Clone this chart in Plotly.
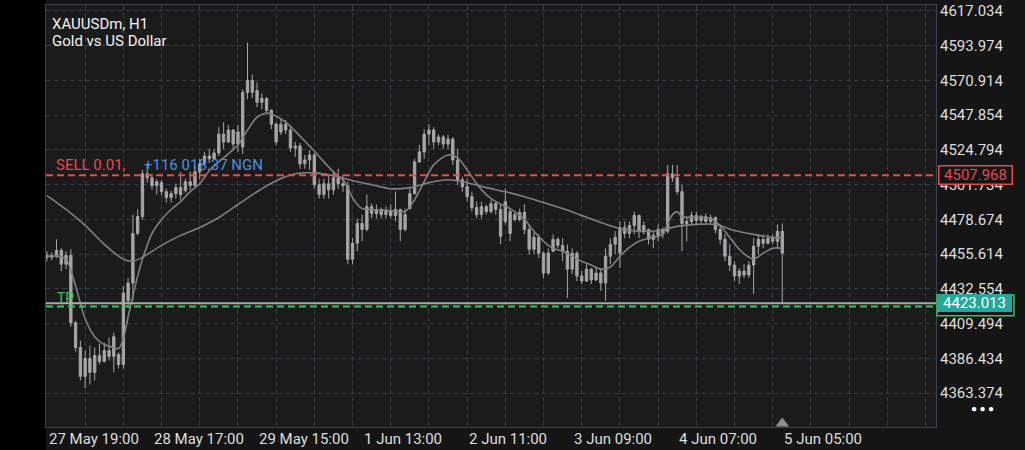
import plotly.graph_objects as go

# ---------------- data (XAUUSDm H1 candles) ----------------
opens = [4454.9, 4453.6, 4454.9, 4458.2, 4449.0, 4454.9, 4410.1, 4393.7, 4374.6, 4386.4,
         4377.2, 4388.4, 4384.5, 4391.7, 4387.8, 4389.1, 4382.5, 4424.6, 4436.5, 4469.4,
         4480.6, 4509.0, 4506.3, 4501.1, 4503.1, 4497.1, 4493.2, 4495.8, 4499.8, 4497.8,
         4503.7, 4501.1, 4510.3, 4515.6, 4520.8, 4518.9, 4522.8, 4535.3, 4530.1, 4538.0,
         4528.7, 4526.8, 4563.0, 4570.9, 4564.3, 4556.4, 4559.1, 4551.1, 4541.9, 4536.7,
         4541.9, 4538.0, 4526.1, 4527.4, 4515.6, 4518.2, 4521.5, 4501.7, 4495.2, 4502.4,
         4498.4, 4506.3, 4502.4, 4501.1, 4452.3, 4462.9, 4476.0, 4472.1, 4487.2, 4482.6,
         4485.3, 4481.9, 4484.6, 4481.3, 4485.3, 4472.1, 4485.9, 4495.8, 4516.9, 4523.5,
         4535.3, 4538.0, 4530.1, 4533.4, 4528.7, 4532.0, 4518.2, 4505.0, 4500.4, 4493.8,
         4486.6, 4481.9, 4487.2, 4483.9, 4489.2, 4485.3, 4477.4, 4483.9, 4481.9, 4478.7,
         4483.3, 4472.1, 4458.9, 4466.8, 4456.3, 4443.1, 4457.6, 4465.5, 4461.5, 4457.6,
         4445.7, 4456.3, 4441.1, 4437.8, 4445.7, 4438.5, 4443.1, 4436.5, 4454.3, 4462.2,
         4456.3, 4473.4, 4469.4, 4474.7, 4481.3, 4470.8, 4472.1, 4465.5, 4468.1, 4472.1,
         4470.8, 4509.0, 4506.3, 4497.1, 4476.0, 4477.4, 4481.3, 4478.0, 4480.6, 4477.4,
         4480.0, 4472.1, 4465.5, 4454.3, 4448.4, 4441.1, 4444.4, 4441.8, 4448.4, 4460.9,
         4465.5, 4462.9, 4466.2, 4464.2, 4470.8]
highs = [4457.6, 4456.9, 4465.5, 4459.6, 4457.6, 4458.9, 4411.5, 4398.3, 4391.7, 4395.0,
         4393.7, 4396.3, 4397.0, 4400.3, 4403.6, 4390.4, 4434.5, 4439.8, 4481.9, 4485.3,
         4511.6, 4514.9, 4509.0, 4505.7, 4505.0, 4499.1, 4497.8, 4502.4, 4510.3, 4505.7,
         4510.3, 4514.9, 4518.9, 4523.5, 4525.5, 4525.5, 4539.9, 4543.2, 4541.3, 4538.6,
         4541.3, 4565.0, 4596.0, 4574.9, 4569.6, 4562.3, 4559.7, 4551.8, 4543.2, 4545.2,
         4544.6, 4541.3, 4530.1, 4529.4, 4521.5, 4524.8, 4522.8, 4505.7, 4505.7, 4508.3,
         4510.3, 4512.3, 4508.3, 4503.7, 4466.2, 4479.3, 4481.9, 4495.2, 4489.2, 4488.6,
         4486.6, 4487.2, 4488.6, 4497.1, 4485.9, 4485.9, 4499.1, 4518.9, 4528.1, 4538.6,
         4541.9, 4539.9, 4535.3, 4534.7, 4534.7, 4533.4, 4525.5, 4507.0, 4505.7, 4497.1,
         4490.5, 4490.5, 4488.6, 4491.8, 4490.5, 4488.6, 4499.1, 4485.9, 4483.9, 4485.9,
         4488.6, 4475.4, 4470.8, 4468.8, 4457.6, 4459.6, 4468.8, 4466.8, 4466.2, 4462.2,
         4459.6, 4457.6, 4444.4, 4449.0, 4446.4, 4446.4, 4446.4, 4459.6, 4466.2, 4470.8,
         4477.4, 4477.4, 4477.4, 4483.9, 4481.9, 4477.4, 4472.7, 4470.8, 4475.4, 4473.4,
         4514.9, 4514.9, 4514.9, 4501.7, 4480.6, 4483.9, 4483.9, 4481.9, 4482.6, 4481.9,
         4480.6, 4475.4, 4468.8, 4462.2, 4451.0, 4446.4, 4449.0, 4451.0, 4466.2, 4468.8,
         4468.8, 4468.8, 4468.8, 4475.4, 4476.0]
lows = [4451.0, 4451.7, 4453.0, 4444.4, 4445.7, 4407.5, 4391.0, 4371.9, 4366.7, 4369.3,
        4371.9, 4382.5, 4383.8, 4385.1, 4377.2, 4379.8, 4379.8, 4420.0, 4424.6, 4468.1,
        4478.7, 4503.1, 4498.4, 4495.2, 4494.5, 4489.9, 4489.9, 4492.5, 4491.8, 4496.5,
        4498.4, 4500.4, 4505.0, 4514.3, 4516.2, 4518.2, 4520.8, 4525.5, 4529.4, 4525.5,
        4523.5, 4522.2, 4558.4, 4559.1, 4553.1, 4551.8, 4548.5, 4538.6, 4528.1, 4534.7,
        4535.3, 4523.5, 4520.2, 4512.3, 4512.3, 4511.6, 4499.1, 4492.5, 4492.5, 4492.5,
        4495.2, 4499.1, 4497.1, 4449.0, 4449.0, 4457.6, 4464.2, 4470.8, 4479.3, 4479.3,
        4479.3, 4479.3, 4479.3, 4477.4, 4464.2, 4470.8, 4485.3, 4495.2, 4516.2, 4518.9,
        4528.1, 4525.5, 4528.1, 4525.5, 4525.5, 4514.9, 4501.7, 4497.1, 4490.5, 4483.9,
        4479.3, 4479.3, 4481.9, 4482.6, 4481.9, 4462.2, 4475.4, 4464.2, 4477.4, 4477.4,
        4468.8, 4455.6, 4455.6, 4453.0, 4439.8, 4441.8, 4456.9, 4459.6, 4451.0, 4426.6,
        4442.4, 4437.8, 4435.8, 4437.2, 4435.8, 4437.8, 4431.2, 4424.6, 4449.0, 4455.6,
        4446.4, 4466.2, 4466.2, 4468.8, 4466.2, 4468.8, 4462.2, 4459.6, 4464.2, 4466.2,
        4469.4, 4503.7, 4495.2, 4457.6, 4464.2, 4475.4, 4475.4, 4475.4, 4475.4, 4476.0,
        4469.4, 4462.2, 4451.0, 4444.4, 4437.8, 4435.8, 4439.8, 4439.8, 4429.3, 4455.6,
        4459.6, 4462.2, 4462.2, 4459.6, 4422.7]
closes = [4453.6, 4454.9, 4458.2, 4449.0, 4454.9, 4410.1, 4393.7, 4374.6, 4386.4, 4377.2,
          4388.4, 4384.5, 4391.7, 4387.8, 4400.9, 4382.5, 4429.9, 4436.5, 4469.4, 4480.6,
          4509.0, 4506.3, 4501.1, 4503.7, 4497.1, 4493.2, 4495.8, 4499.8, 4495.2, 4503.7,
          4501.1, 4510.3, 4515.6, 4520.8, 4518.9, 4522.8, 4535.3, 4530.1, 4538.0, 4528.7,
          4536.7, 4563.0, 4570.9, 4563.0, 4556.4, 4559.1, 4551.1, 4541.9, 4530.1, 4541.9,
          4538.0, 4526.1, 4527.4, 4515.6, 4518.2, 4521.5, 4501.7, 4495.2, 4502.4, 4498.4,
          4506.3, 4502.4, 4501.1, 4452.3, 4462.9, 4476.0, 4472.1, 4487.2, 4482.6, 4485.3,
          4481.9, 4484.6, 4481.3, 4485.3, 4472.1, 4481.9, 4495.8, 4516.9, 4523.5, 4535.3,
          4538.0, 4530.1, 4533.4, 4528.7, 4532.0, 4518.2, 4505.0, 4500.4, 4493.8, 4486.6,
          4481.9, 4487.2, 4483.9, 4489.2, 4485.3, 4467.5, 4490.5, 4469.4, 4478.7, 4483.3,
          4472.1, 4458.9, 4466.8, 4456.3, 4443.1, 4456.3, 4465.5, 4461.5, 4457.6, 4445.7,
          4456.3, 4441.1, 4437.8, 4445.7, 4438.5, 4443.1, 4436.5, 4454.3, 4462.2, 4466.8,
          4473.4, 4469.4, 4474.7, 4481.3, 4470.8, 4474.7, 4465.5, 4468.1, 4472.1, 4469.4,
          4509.0, 4506.3, 4497.1, 4476.0, 4477.4, 4481.3, 4478.0, 4480.6, 4477.4, 4480.0,
          4472.1, 4465.5, 4454.3, 4448.4, 4441.1, 4444.4, 4441.8, 4448.4, 4460.9, 4465.5,
          4462.9, 4466.2, 4464.2, 4470.8, 4456.3]

# moving averages (candle index, price)
ma_slow_idx = [0, 4, 8, 12, 16, 18, 20, 24, 28, 32, 36, 40, 44, 48, 52, 56, 60, 64, 68, 72,
               76, 80, 84, 88, 92, 96, 100, 104, 108, 112, 116, 120, 124, 128, 132, 136, 140,
               144, 148, 152, 154]
ma_slow_val = [4494.5, 4485.3, 4474.7, 4462.2, 4452.3, 4451.0, 4453.6, 4461.5, 4468.1, 4473.4,
               4480.0, 4488.6, 4497.1, 4504.4, 4509.0, 4509.6, 4507.7, 4504.4, 4501.7, 4499.1,
               4499.8, 4503.1, 4505.0, 4503.1, 4499.8, 4497.1, 4493.8, 4489.9, 4485.9, 4481.3,
               4476.7, 4472.7, 4470.8, 4471.4, 4474.1, 4475.4, 4475.4, 4471.4, 4468.8, 4466.8,
               4466.2]
ma_fast_idx = [0, 2, 4, 6, 8, 10, 12, 14, 15, 16, 17, 18, 19, 20, 22, 24, 26, 28, 30, 32,
               34, 36, 38, 40, 42, 44, 46, 48, 50, 52, 54, 56, 58, 60, 62, 63, 64, 65, 66, 68,
               72, 75, 77, 79, 81, 84, 86, 88, 90, 92, 94, 97, 100, 102, 104, 106, 108, 110,
               112, 114, 116, 118, 120, 122, 124, 126, 128, 129, 130, 131, 132, 133, 135, 137,
               139, 141, 143, 145, 147, 148, 150, 152, 154]
ma_fast_val = [4454.3, 4454.3, 4452.3, 4434.5, 4412.8, 4400.9, 4395.7, 4393.7, 4393.0, 4399.6,
               4414.1, 4427.9, 4441.1, 4452.3, 4469.4, 4478.7, 4485.3, 4490.5, 4497.1, 4502.4,
               4511.0, 4516.9, 4522.2, 4528.1, 4538.0, 4546.5, 4549.2, 4547.2, 4543.2, 4537.3,
               4530.7, 4524.1, 4516.9, 4510.3, 4505.0, 4499.8, 4493.2, 4488.6, 4485.9, 4485.3,
               4484.6, 4483.9, 4491.8, 4503.7, 4514.9, 4521.5, 4519.5, 4511.6, 4502.4, 4495.2,
               4490.5, 4485.9, 4478.7, 4470.8, 4464.2, 4459.6, 4457.6, 4454.3, 4451.0, 4448.4,
               4445.7, 4447.1, 4454.3, 4460.2, 4464.2, 4466.2, 4467.5, 4468.8, 4476.0, 4481.9,
               4483.9, 4480.6, 4480.0, 4480.0, 4479.3, 4474.7, 4466.8, 4458.9, 4453.6, 4452.3,
               4456.3, 4459.6, 4459.6]

# price axis ticks and time labels
y_ticks = [4363.374, 4386.434, 4409.494, 4432.554, 4455.614, 4478.674, 4501.734,
           4524.794, 4547.854, 4570.914, 4593.974, 4617.034]
time_labels = ["27 May 19:00", "28 May 17:00", "29 May 15:00", "1 Jun 13:00",
               "2 Jun 11:00", "3 Jun 09:00", "4 Jun 07:00", "5 Jun 05:00"]
time_label_idx = [0, 22, 44, 66, 88, 110, 132, 154]

sell_price = 4507.968
tp_price = 4420.9
bid_price = 4423.013
profit_text = "+116 018.37 NGN"

# ---------------- styling ----------------
FONT = "Roboto"
CANDLE = "#a6a6a6"
MA = "#808080"
GRID = "#333a45"
BORDER = "#3a4350"
RED = "#e24c4c"
GREEN = "#3fbf5a"
TEAL = "#25a79c"
BLUE = "#4a8fe0"
TXT = "#dedede"

idx = list(range(len(opens)))
y_lo, y_hi = 4340.97, 4620.98

fig = go.Figure()
fig.add_trace(go.Scatter(x=ma_slow_idx, y=ma_slow_val, mode="lines",
                         line=dict(color=MA, width=1.6, shape="spline", smoothing=0.8),
                         hoverinfo="skip", showlegend=False))
fig.add_trace(go.Scatter(x=ma_fast_idx, y=ma_fast_val, mode="lines",
                         line=dict(color=MA, width=1.6, shape="spline", smoothing=0.8),
                         hoverinfo="skip", showlegend=False))
fig.add_trace(go.Candlestick(
    x=idx, open=opens, high=highs, low=lows, close=closes,
    increasing=dict(line=dict(color=CANDLE, width=1), fillcolor=CANDLE),
    decreasing=dict(line=dict(color=CANDLE, width=1), fillcolor=CANDLE),
    whiskerwidth=0, showlegend=False, hoverinfo="skip"))
# current-bar marker at bottom edge
fig.add_trace(go.Scatter(x=[idx[-1]], y=[y_lo + 2.4], mode="markers",
                         marker=dict(symbol="triangle-up", size=12, color="#8e8e8e"),
                         cliponaxis=False, hoverinfo="skip", showlegend=False))

shapes = [
    # black strip on the left
    dict(type="rect", xref="paper", yref="paper", x0=-0.06, x1=0, y0=-0.1, y1=1.02,
         fillcolor="#000000", line=dict(width=0), layer="below"),
    dict(type="line", xref="paper", yref="y", x0=0, x1=1, y0=bid_price, y1=bid_price,
         line=dict(color="#a3adad", width=2)),
    dict(type="line", xref="paper", yref="y", x0=0, x1=1, y0=tp_price, y1=tp_price,
         line=dict(color=GREEN, width=2, dash="7px,4px")),
    dict(type="line", xref="paper", yref="y", x0=0, x1=1, y0=sell_price, y1=sell_price,
         line=dict(color=RED, width=2, dash="7px,4px")),
    # TP price tag outline (behind the bid tag)
    dict(type="rect", xref="paper", yref="y", x0=1.0011, x1=1.0876,
         y0=tp_price - 6.1, y1=tp_price + 7.7, line=dict(color=GREEN, width=1.5),
         fillcolor="#151515"),
]

annotations = [
    dict(text="XAUUSDm, H1", xref="paper", yref="paper", x=0.0045, y=0.955,
         xanchor="left", yanchor="middle", showarrow=False,
         font=dict(family=FONT, size=15, color="#f2f2f2")),
    dict(text="Gold vs US Dollar", xref="paper", yref="paper", x=0.0045, y=0.914,
         xanchor="left", yanchor="middle", showarrow=False,
         font=dict(family=FONT, size=15, color="#f2f2f2")),
    dict(text="SELL 0.01,", xref="paper", yref="y", x=0.009, y=4515.0,
         xanchor="left", yanchor="middle", showarrow=False,
         font=dict(family=FONT, size=15, color=RED)),
    dict(text=profit_text, xref="paper", yref="y", x=0.1075, y=4515.0,
         xanchor="left", yanchor="middle", showarrow=False,
         font=dict(family=FONT, size=15, color=BLUE)),
    dict(text="TP", xref="paper", yref="y", x=0.0101, y=4426.8,
         xanchor="left", yanchor="middle", showarrow=False,
         font=dict(family=FONT, size=14, color=GREEN)),
    dict(text=f"{sell_price:.3f}", xref="paper", yref="y", x=1.0022, y=sell_price,
         xanchor="left", yanchor="middle", showarrow=False, width=70, height=15,
         bgcolor="#151515", bordercolor=RED, borderwidth=1.5, borderpad=1,
         font=dict(family=FONT, size=15, color=RED)),
    dict(text=f"{bid_price:.3f}", xref="paper", yref="y", x=1.0011, y=bid_price,
         xanchor="left", yanchor="middle", showarrow=False, width=71, height=14,
         bgcolor=TEAL, bordercolor=TEAL, borderwidth=1, borderpad=1,
         font=dict(family=FONT, size=15, color="#ffffff")),
    dict(text="\u25cf \u25cf \u25cf", xref="paper", yref="paper", x=1.0517, y=0.045,
         xanchor="center", yanchor="middle", showarrow=False,
         font=dict(family=FONT, size=10, color="#ffffff")),
]
for lab, pos in zip(time_labels, time_label_idx):
    annotations.append(dict(text=lab, xref="x", yref="paper", x=pos, y=0,
                            xanchor="left", yanchor="top", yshift=-1, showarrow=False,
                            font=dict(family=FONT, size=15, color=TXT)))

fig.update_layout(
    width=1025, height=450,
    margin=dict(l=46, r=89, t=2, b=23),
    paper_bgcolor="#151515", plot_bgcolor="#1b1b1b",
    shapes=shapes, annotations=annotations,
    showlegend=False, hovermode=False,
    font=dict(family=FONT, color=TXT),
    xaxis=dict(range=[-0.2, 186.2], rangeslider=dict(visible=False),
               showticklabels=False, ticks="", tick0=0, dtick=8,
               showgrid=True, gridcolor=GRID, griddash="5px,3px", gridwidth=1,
               zeroline=False, showline=True, linecolor=BORDER, linewidth=1, mirror=True),
    yaxis=dict(range=[y_lo, y_hi], side="right", tickmode="array",
               tickvals=y_ticks, ticktext=[f"{v:.3f}" for v in y_ticks],
               tickfont=dict(family=FONT, size=15, color=TXT), ticks="",
               ticklabeloverflow="allow",
               showgrid=True, gridcolor=GRID, griddash="5px,3px", gridwidth=1,
               zeroline=False, showline=True, linecolor=BORDER, linewidth=1, mirror=True),
)

fig.write_html("out.html")
